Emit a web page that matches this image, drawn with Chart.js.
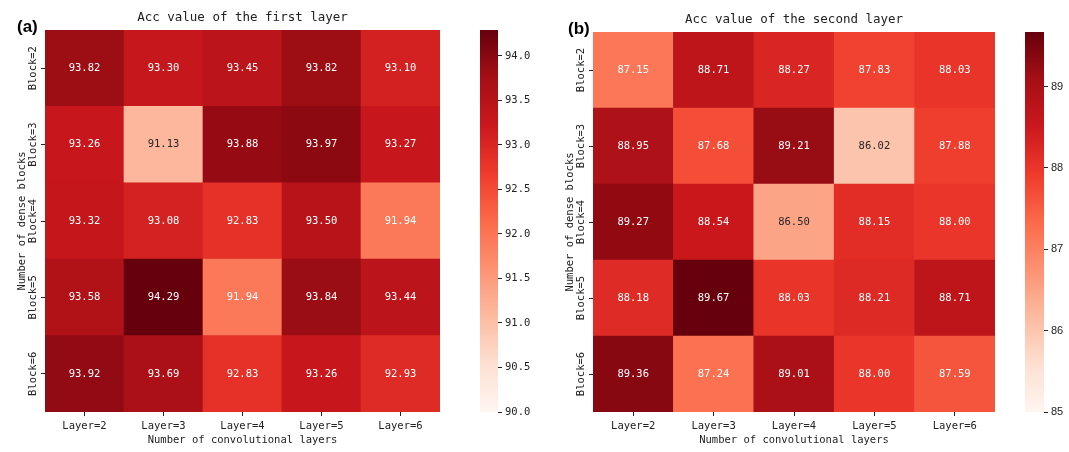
<!DOCTYPE html>
<html>
<head>
<meta charset="utf-8">
<title>Acc heatmaps</title>
<script src="https://cdn.jsdelivr.net/npm/chart.js@4.4.1/dist/chart.umd.min.js"></script>
<style>
  html, body { margin: 0; padding: 0; background: #fff; }
  body { width: 1069px; height: 452px; position: relative; overflow: hidden; }
  .box { position: absolute; top: 0; height: 452px; }
  .box canvas { display: block; }
</style>
</head>
<body>
<div class="box" style="left:0;width:460px"><canvas id="heatA"></canvas></div>
<div class="box" style="left:470px;width:80px"><canvas id="barA"></canvas></div>
<div class="box" style="left:548px;width:467px"><canvas id="heatB"></canvas></div>
<div class="box" style="left:1015px;width:54px"><canvas id="barB"></canvas></div>
<script>
// columns and rows of both heatmaps
const layers = ['Layer=2', 'Layer=3', 'Layer=4', 'Layer=5', 'Layer=6'];
const blocks = ['Block=2', 'Block=3', 'Block=4', 'Block=5', 'Block=6'];

// Acc of the first layer, one row per block setting (top to bottom)
const accFirst = [
  [93.82, 93.30, 93.45, 93.82, 93.10],
  [93.26, 91.13, 93.88, 93.97, 93.27],
  [93.32, 93.08, 92.83, 93.50, 91.94],
  [93.58, 94.29, 91.94, 93.84, 93.44],
  [93.92, 93.69, 92.83, 93.26, 92.93]
];

// Acc of the second layer
const accSecond = [
  [87.15, 88.71, 88.27, 87.83, 88.03],
  [88.95, 87.68, 89.21, 86.02, 87.88],
  [89.27, 88.54, 86.50, 88.15, 88.00],
  [88.18, 89.67, 88.03, 88.21, 88.71],
  [89.36, 87.24, 89.01, 88.00, 87.59]
];

// colour bar lower limits and tick steps
const firstMin = 90, firstStep = 0.5;
const secondMin = 85, secondStep = 1;

const MONO = '"DejaVu Sans Mono", "Liberation Mono", monospace';
const INK = '#222';

// matplotlib "Reds"
const REDS = [
  [255, 245, 240], [254, 224, 210], [252, 187, 161], [252, 146, 114], [251, 106, 74],
  [239, 59, 44], [203, 24, 29], [165, 15, 21], [103, 0, 13]
];

function redsRgb(t) {
  t = Math.max(0, Math.min(1, t));
  const p = t * (REDS.length - 1);
  const i = Math.min(REDS.length - 2, Math.floor(p));
  const f = p - i;
  return REDS[i].map((c, k) => Math.round(c + (REDS[i + 1][k] - c) * f));
}

function rgbStr(c) {
  return `rgb(${c[0]}, ${c[1]}, ${c[2]})`;
}

// same rule seaborn uses to choose annotation colour
function textColorFor(c) {
  const lin = c.map(v => {
    v /= 255;
    return v <= 0.03928 ? v / 12.92 : Math.pow((v + 0.055) / 1.055, 2.4);
  });
  const lum = 0.2126 * lin[0] + 0.7152 * lin[1] + 0.0722 * lin[2];
  return lum > 0.408 ? '#262626' : '#fff';
}

// draws the numbers in the cells, the title and the (a)/(b) tag
const heatLabels = {
  id: 'heatLabels',
  afterDatasetsDraw(chart, args, opts) {
    const ctx = chart.ctx;
    ctx.save();
    ctx.font = `10.5px ${MONO}`;
    ctx.textAlign = 'center';
    ctx.textBaseline = 'middle';
    chart.data.datasets.forEach((ds, di) => {
      const meta = chart.getDatasetMeta(di);
      meta.data.forEach((bar, i) => {
        const v = ds.data[i].v;
        const t = (v - opts.vmin) / (opts.vmax - opts.vmin);
        ctx.fillStyle = textColorFor(redsRgb(t));
        ctx.fillText(v.toFixed(2), bar.x, (bar.y + bar.base) / 2);
      });
    });
    ctx.restore();
  },
  afterDraw(chart, args, opts) {
    const ctx = chart.ctx;
    const area = chart.chartArea;
    ctx.save();
    ctx.fillStyle = INK;
    ctx.font = `12.5px ${MONO}`;
    ctx.textAlign = 'center';
    ctx.textBaseline = 'middle';
    ctx.fillText(opts.title, (area.left + area.right) / 2, opts.titleY);
    ctx.fillStyle = '#000';
    ctx.font = 'bold 17px "Liberation Sans", Arial, sans-serif';
    ctx.textAlign = 'left';
    ctx.textBaseline = 'alphabetic';
    ctx.fillText(opts.tag, opts.tagX, opts.tagY);
    ctx.restore();
  }
};

function makeHeatmap(id, rows, vmin, title, tag, top, tagX) {
  const vmax = Math.max(...rows.flat());
  const rowsUp = rows.slice().reverse();
  const blocksUp = blocks.slice().reverse();

  const datasets = rowsUp.map((row, r) => ({
    label: blocksUp[r],
    data: row.map((v, i) => ({ x: layers[i], y: 1, v })),
    backgroundColor: c => rgbStr(redsRgb((c.raw.v - vmin) / (vmax - vmin))),
    borderWidth: 0,
    barPercentage: 1,
    categoryPercentage: 1
  }));

  return new Chart(document.getElementById(id), {
    type: 'bar',
    data: { labels: layers, datasets },
    options: {
      responsive: true,
      maintainAspectRatio: false,
      animation: false,
      layout: { padding: { top, right: 20, left: 0, bottom: 0 } },
      plugins: {
        legend: { display: false },
        tooltip: { enabled: false },
        heatLabels: { vmin, vmax, title, tag, tagX, tagY: top + 2, titleY: top - 12 }
      },
      scales: {
        x: {
          stacked: true,
          border: { display: false },
          grid: { display: true, drawOnChartArea: false, offset: false, tickLength: 4, color: INK },
          ticks: { color: INK, font: { family: MONO, size: 10.5 }, padding: 4, maxRotation: 0 },
          title: { display: true, text: 'Number of convolutional layers', color: INK,
                   font: { family: MONO, size: 10.5 }, padding: { top: 0, bottom: 5 } },
          afterFit: s => { s.height = 40; }
        },
        y: {
          stacked: true,
          min: 0,
          max: blocks.length,
          border: { display: false },
          grid: { display: true, drawOnChartArea: false, tickLength: 4, color: INK },
          afterBuildTicks: s => {
            s.ticks = blocksUp.map((b, i) => ({ value: i + 0.5 }));
          },
          ticks: {
            color: INK,
            font: { family: MONO, size: 10.5 },
            minRotation: 90,
            maxRotation: 90,
            crossAlign: 'center',
            padding: -14,
            autoSkip: false,
            callback: v => blocksUp[Math.floor(v)]
          },
          title: { display: true, text: 'Number of dense blocks', color: INK,
                   font: { family: MONO, size: 10.5 }, padding: { top: 16, bottom: 0 } },
          afterFit: s => { s.width = 45; }
        }
      }
    },
    plugins: [heatLabels]
  });
}

function makeColorbar(id, rows, vmin, step, top, axisWidth, tickFont, fmt) {
  const vmax = Math.max(...rows.flat());
  return new Chart(document.getElementById(id), {
    type: 'bar',
    data: {
      labels: [''],
      datasets: [{
        data: [[vmin, vmax]],
        backgroundColor: c => {
          const a = c.chart.chartArea;
          if (!a) return REDS[4];
          const g = c.chart.ctx.createLinearGradient(0, a.bottom, 0, a.top);
          REDS.forEach((col, i) => g.addColorStop(i / (REDS.length - 1), rgbStr(col)));
          return g;
        },
        borderWidth: 0,
        barPercentage: 1,
        categoryPercentage: 1
      }]
    },
    options: {
      responsive: true,
      maintainAspectRatio: false,
      animation: false,
      layout: { padding: { top, left: 10, right: 0, bottom: 40 } },
      plugins: { legend: { display: false }, tooltip: { enabled: false } },
      scales: {
        x: { display: false },
        y: {
          position: 'right',
          min: vmin,
          max: vmax,
          border: { display: false },
          grid: { display: true, drawOnChartArea: false, tickLength: 4, color: INK },
          ticks: { stepSize: step, includeBounds: false, color: INK, font: tickFont, padding: 3, callback: fmt },
          afterFit: s => { s.width = axisWidth; }
        }
      }
    }
  });
}

makeHeatmap('heatA', accFirst, firstMin, 'Acc value of the first layer', '(a)', 30, 17);
makeHeatmap('heatB', accSecond, secondMin, 'Acc value of the second layer', '(b)', 32, 20);

makeColorbar('barA', accFirst, firstMin, firstStep, 30, 52,
  { family: MONO, size: 10.5 }, v => v.toFixed(1));
makeColorbar('barB', accSecond, secondMin, secondStep, 32, 25,
  { family: '"Liberation Sans", Arial, sans-serif', size: 11 }, v => String(Math.round(v)));
</script>
</body>
</html>
